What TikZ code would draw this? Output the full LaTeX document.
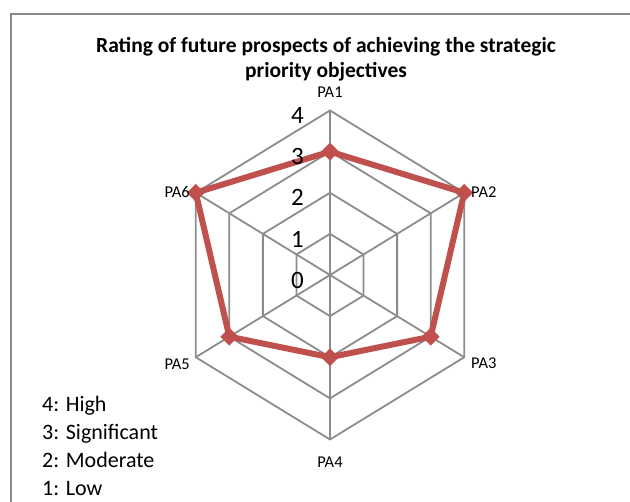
\documentclass[tikz,border=0pt]{standalone}
\usepackage{fontspec}
\setmainfont{Carlito}
\usetikzlibrary{shapes.geometric}
\definecolor{gridgray}{HTML}{8C8C8C}
\definecolor{framegray}{HTML}{888888}
\definecolor{serred}{HTML}{C0504D}
\tikzset{
  gridline/.style={draw=gridgray, line width=1.8pt},
  serline/.style={draw=serred, line width=6pt, line join=round},
  marker/.style={shape=diamond, fill=serred, inner sep=0pt, minimum size=18pt},
  axlab/.style={font=\fontsize{16.5}{18}\selectfont, inner sep=0pt},
  ticklab/.style={font=\fontsize{25}{27}\selectfont, inner sep=0pt, anchor=east},
  legtext/.style={font=\fontsize{22}{24}\selectfont, inner sep=0pt, anchor=base west},
  titletext/.style={font=\bfseries\fontsize{21.5}{24}\selectfont, inner sep=0pt, anchor=base}
}
\begin{document}
\begin{tikzpicture}[x=1pt,y=-1pt]
\useasboundingbox (0,0) rectangle (630,502);
% frame
\draw[draw=framegray, line width=2pt] (11,503) -- (11,14.5) -- (631,14.5);
% geometry
\def\cx{330}\def\cy{275}\def\rx{155}\def\ry{164.5}
% grid hexagons
\foreach \r in {1,2,3,4}{
  \draw[gridline] ({\cx},{\cy-\ry*\r/4})
    \foreach \k in {1,...,5}{ -- ({\cx+\rx*\r/4*sin(60*\k)},{\cy-\ry*\r/4*cos(60*\k)}) } -- cycle;
}
\coordinate (c) at (\cx,\cy);
\foreach \k in {0,...,5}{
  \coordinate (s\k) at ({\cx+\rx*sin(60*\k)},{\cy-\ry*cos(60*\k)});
  \draw[gridline] (c) -- (s\k);
}
% data points
\foreach \k/\v in {0/3,1/4,2/3,3/2,4/3,5/4}{
  \coordinate (p\k) at ({\cx+\rx*\v/4*sin(60*\k)},{\cy-\ry*\v/4*cos(60*\k)});
}
\draw[serline] (p0) -- (p1) -- (p2) -- (p3) -- (p4) -- (p5) -- cycle;
\foreach \k in {0,...,5}{ \node[marker] (d\k) at (p\k) {}; }
% tick labels
\node[ticklab] (t0) at (304,280) {0};
\node[ticklab] (t1) at (304,239) {1};
\node[ticklab] (t2) at (304,197.5) {2};
\node[ticklab] (t3) at (304,156) {3};
\node[ticklab] (t4) at (304,115) {4};
% axis labels
\node[axlab] (l1) at (330,92) {PA1};
\node[axlab, anchor=west] (l2) at (471,192) {PA2};
\node[axlab, anchor=west] (l3) at (471,363) {PA3};
\node[axlab] (l4) at (330,462) {PA4};
\node[axlab, anchor=east] (l5) at (190,364) {PA5};
\node[axlab, anchor=east] (l6) at (190,192) {PA6};
% title
\node[titletext] (ti1) at (326,53) {Rating of future prospects of achieving the strategic};
\node[titletext] (ti2) at (326,78) {priority objectives};
% legend
\node[legtext] (g4) at (42,412) {4: High};
\node[legtext] (g3) at (42,440) {3: Significant};
\node[legtext] (g2) at (42,468) {2: Moderate};
\node[legtext] (g1) at (42,495.5) {1: Low};
\end{tikzpicture}
\end{document}
